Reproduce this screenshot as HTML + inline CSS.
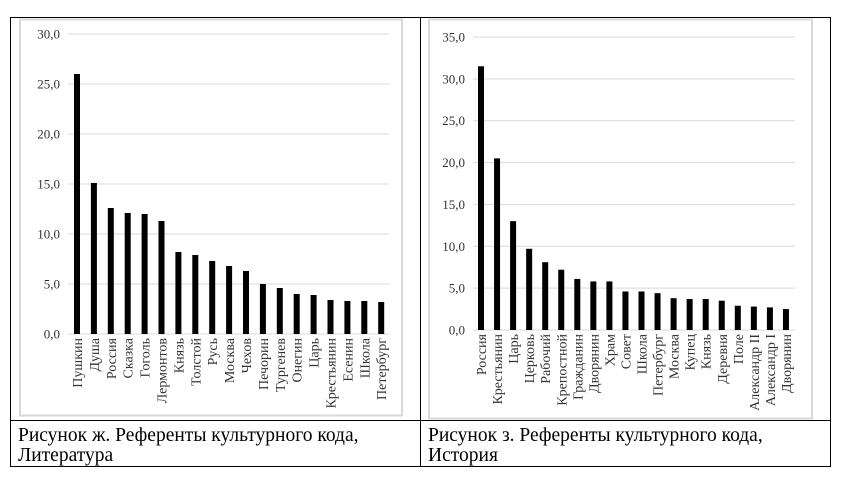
<!DOCTYPE html>
<html><head><meta charset="utf-8"><style>
body{margin:0;background:#fff;width:845px;height:479px;overflow:hidden}
svg{position:absolute;left:0;top:0}
text{font-family:"Liberation Serif",serif;fill:#333}
</style></head><body>
<svg id="s" width="845" height="479" xmlns="http://www.w3.org/2000/svg"></svg>
<script>
const s=document.getElementById('s');let h='';
h+='<rect x="10.5" y="17.5" width="820" height="449" fill="none" stroke="#000" stroke-width="1"/>';
h+='<line x1="420.5" y1="17" x2="420.5" y2="467" stroke="#000"/>';
h+='<line x1="10" y1="420.5" x2="831" y2="420.5" stroke="#000"/>';
h+='<rect x="20" y="19.5" width="382" height="396" fill="none" stroke="#d9d9d9" stroke-width="2"/>';
h+='<rect x="429" y="19.5" width="383" height="399" fill="none" stroke="#d9d9d9" stroke-width="2"/>';
function chart(o){
 for(let v=0;v<=o.max;v+=5){const y=o.y0-v*o.k;
  h+=`<line x1="${o.gx1}" x2="${o.gx2}" y1="${y}" y2="${y}" stroke="#d9d9d9" stroke-width="1"/>`;
  h+=`<text x="${o.lx}" y="${y+4.5}" font-size="13" text-anchor="end">${v.toFixed(1).replace('.',',')}</text>`;}
 o.d.forEach((d,i)=>{const cx=o.c0+i*o.sp;const hh=d[1]*o.k;
  h+=`<rect x="${cx-3}" y="${o.y0-hh}" width="6" height="${hh}" fill="#000"/>`;
  h+=`<text transform="translate(${cx+5},${o.y0+4}) rotate(-90)" font-size="14" text-anchor="end">${d[0]}</text>`;});
}
chart({y0:334,k:10,max:30,gx1:68,gx2:389,lx:60,c0:77,sp:16.9,d:[["Пушкин",26],["Душа",15.1],["Россия",12.6],["Сказка",12.1],["Гоголь",12.0],["Лермонтов",11.3],["Князь",8.2],["Толстой",7.9],["Русь",7.3],["Москва",6.8],["Чехов",6.3],["Печорин",5.0],["Тургенев",4.6],["Онегин",4.0],["Царь",3.9],["Крестьянин",3.4],["Есенин",3.3],["Школа",3.3],["Петербург",3.2]]});
chart({y0:330,k:293/35,max:35,gx1:473,gx2:795,lx:465,c0:481,sp:16.05,d:[["Россия",31.5],["Крестьянин",20.5],["Царь",13.0],["Церковь",9.7],["Рабочий",8.1],["Крепостной",7.2],["Гражданин",6.1],["Дворянин",5.8],["Храм",5.8],["Совет",4.6],["Школа",4.6],["Петербург",4.4],["Москва",3.8],["Купец",3.7],["Князь",3.7],["Деревня",3.5],["Поле",2.9],["Александр II",2.8],["Александр I",2.7],["Дворянин",2.5]]});
h+='<text x="18" y="441" font-size="19.5" style="fill:#000">Рисунок ж. Референты культурного кода,</text>';
h+='<text x="18" y="461" font-size="19.5" style="fill:#000">Литература</text>';
h+='<text x="428" y="441" font-size="19.5" style="fill:#000">Рисунок з. Референты культурного кода,</text>';
h+='<text x="428" y="461" font-size="19.5" style="fill:#000">История</text>';
s.innerHTML=h;
</script>
</body></html>
